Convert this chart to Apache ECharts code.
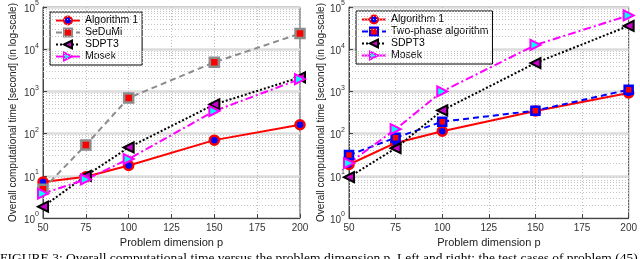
<!DOCTYPE html>
<html>
<head>
<meta charset="utf-8">
<script src="https://cdn.jsdelivr.net/npm/echarts@6/dist/echarts.min.js"></script>
<style>
html,body{margin:0;padding:0;background:#fff;}
#c{width:640px;height:259px;}
</style>
</head>
<body>
<div id="c"></div>
<script>
// ---- data ----
var pDims = [50, 75, 100, 150, 200];
var xTicks = [50, 75, 100, 125, 150, 175, 200];
var yDecades = [1, 10, 100, 1000, 10000, 100000];

var leftAlg1   = [7.1, 9.5, 17.5, 70, 162];
var leftSeDuMi = [4.8, 54, 700, 4900, 23500];
var leftSDPT3  = [1.85, 10, 47, 490, 2150];
var leftMosek  = [3.8, 8.2, 25, 343, 1960];

var rightAlg1     = [18.5, 60, 114, 343, 920];
var rightTwoPhase = [31, 80, 192, 350, 1100];
var rightSDPT3    = [9.3, 45, 355, 4700, 35700];
var rightMosek    = [20, 127, 1000, 12600, 63000];

var leftNames  = ['Algorithm 1', 'SeDuMi', 'SDPT3', 'Mosek'];
var rightNames = ['Algorithm 1', 'Two-phase algorithm', 'SDPT3', 'Mosek'];

var xName = 'Problem dimension p';
var yName = 'Overall computational time [second] (in log-scale)';
var caption = 'FIGURE 3: Overall computational time versus the problem dimension p. Left and right: the test cases of problem (45). This';

// ---- helpers ----
function pairs(vals){ return pDims.map(function(p,i){ return [p, vals[i]]; }); }
var minorVals = [];
for (var k = 0; k < 5; k++) { for (var m = 2; m <= 9; m++) minorVals.push(m * Math.pow(10, k)); }

var FONT = 'Liberation Sans, Arial, sans-serif';

var styles = {
  'Algorithm 1': { line: {color:'#ff0000', width:2, type:'solid'}, symbol:'circle', size:9,
                   item:{color:'#0000ff', borderColor:'#ff0000', borderWidth:2.5} },
  'SeDuMi': { line: {color:'#8c8c8c', width:2, type:[6,4]}, symbol:'rect', size:9,
              item:{color:'#ff0000', borderColor:'#8c8c8c', borderWidth:2.5} },
  'SDPT3': { line: {color:'#000000', width:2, type:[2,2]}, symbol:'path://M0,50L100,0L100,100Z', size:10,
             item:{color:'#cc00cc', borderColor:'#000000', borderWidth:2} },
  'Mosek': { line: {color:'#ff00ff', width:2, type:[8,3,2,3]}, symbol:'path://M100,50L0,0L0,100Z', size:10,
             item:{color:'#00ffff', borderColor:'#ff00ff', borderWidth:2} },
  'Two-phase algorithm': { line: {color:'#0000ff', width:2, type:[6,4]}, symbol:'rect', size:8,
             item:{color:'#ff0000', borderColor:'#0000ff', borderWidth:2.5} }
};

function mkSeries(name, vals, idx){
  var s = styles[name];
  return {
    name: name, type:'line', xAxisIndex: idx, yAxisIndex: idx,
    data: pairs(vals), symbol: s.symbol, symbolSize: s.size,
    lineStyle: s.line, itemStyle: s.item, z: 5
  };
}
function minorSeries(idx){
  return {
    name: '_minor' + idx, type:'line', xAxisIndex: idx, yAxisIndex: idx,
    data: [[50, 1]], showSymbol:false, silent:true, lineStyle:{opacity:0}, z:1,
    markLine: { silent:true, symbol:'none', label:{show:false}, animation:false,
      lineStyle:{color:'#c4c4c4', width:1, type:[1,2]},
      data: minorVals.map(function(v){ return {yAxis: v}; }) }
  };
}

function xAxisCfg(idx){
  return {
    type:'value', gridIndex: idx, min:50, max:200, interval:25,
    name: xName, nameLocation:'middle', nameGap: 18,
    nameTextStyle:{fontFamily:FONT, fontSize:11, color:'#222'},
    axisLine:{show:true, lineStyle:{color:'#444', width:1}},
    axisTick:{show:true, inside:true, length:4, lineStyle:{color:'#444'}},
    axisLabel:{fontFamily:FONT, fontSize:10, color:'#333', margin:5},
    splitLine:{show:true, lineStyle:{color:'#bdbdbd', type:[1,2], width:1}}
  };
}
function yAxisCfg(idx, gap){
  return {
    type:'log', gridIndex: idx, min:1, max:100000, logBase:10,
    name: yName, nameLocation:'middle', nameRotate:90, nameGap: gap,
    nameTextStyle:{fontFamily:FONT, fontSize:10, color:'#222'},
    axisLine:{show:true, lineStyle:{color:'#444', width:1}},
    axisTick:{show:true, inside:true, length:4, lineStyle:{color:'#444'}},
    axisLabel:{
      margin:4,
      formatter:function(v){ var e = Math.round(Math.log10(v)); return '{b|10}{s|' + e + '}'; },
      rich:{ b:{fontFamily:FONT, fontSize:10, color:'#333', lineHeight:14, verticalAlign:'bottom'},
             s:{fontFamily:FONT, fontSize:7, color:'#333', verticalAlign:'top', padding:[0,0,7,0]} }
    },
    splitLine:{show:true, lineStyle:{color:'#dcdcdc', width:2.5, type:'solid'}}
  };
}
function legendCfg(names, left, top){
  return {
    data: names, orient:'vertical', left:left, top:top,
    padding:[3,4,3,5], itemGap:1, itemWidth:24, itemHeight:10,
    backgroundColor:'#fff', borderColor:'#000', borderWidth:1, borderRadius:0,
    textStyle:{fontFamily:FONT, fontSize:10.5, color:'#000'},
    selectedMode:false
  };
}

var chart = echarts.init(document.getElementById('c'), null, {renderer:'canvas'});
chart.setOption({
  animation:false,
  backgroundColor:'#fff',
  grid:[
    {left:43, right:340, top:5, bottom:41, show:true, borderColor:'#444', borderWidth:1, backgroundColor:'transparent'},
    {left:349, right:7, top:5, bottom:41, show:true, borderColor:'#444', borderWidth:1, backgroundColor:'transparent'}
  ],
  xAxis:[xAxisCfg(0), xAxisCfg(1)],
  yAxis:[yAxisCfg(0, 25), yAxisCfg(1, 19)],
  legend:[legendCfg(leftNames, 50, 12), legendCfg(rightNames, 356, 11)],
  series:[
    minorSeries(0), minorSeries(1),
    mkSeries('Algorithm 1', leftAlg1, 0),
    mkSeries('SeDuMi', leftSeDuMi, 0),
    mkSeries('SDPT3', leftSDPT3, 0),
    mkSeries('Mosek', leftMosek, 0),
    mkSeries('Algorithm 1', rightAlg1, 1),
    mkSeries('Two-phase algorithm', rightTwoPhase, 1),
    mkSeries('SDPT3', rightSDPT3, 1),
    mkSeries('Mosek', rightMosek, 1)
  ],
  graphic:[{
    type:'text', left:0, top:251, silent:true,
    style:{text: caption, fontFamily:'Liberation Serif, Times New Roman, serif', fontSize:13.5, fill:'#000'}
  }]
});
</script>
</body>
</html>
